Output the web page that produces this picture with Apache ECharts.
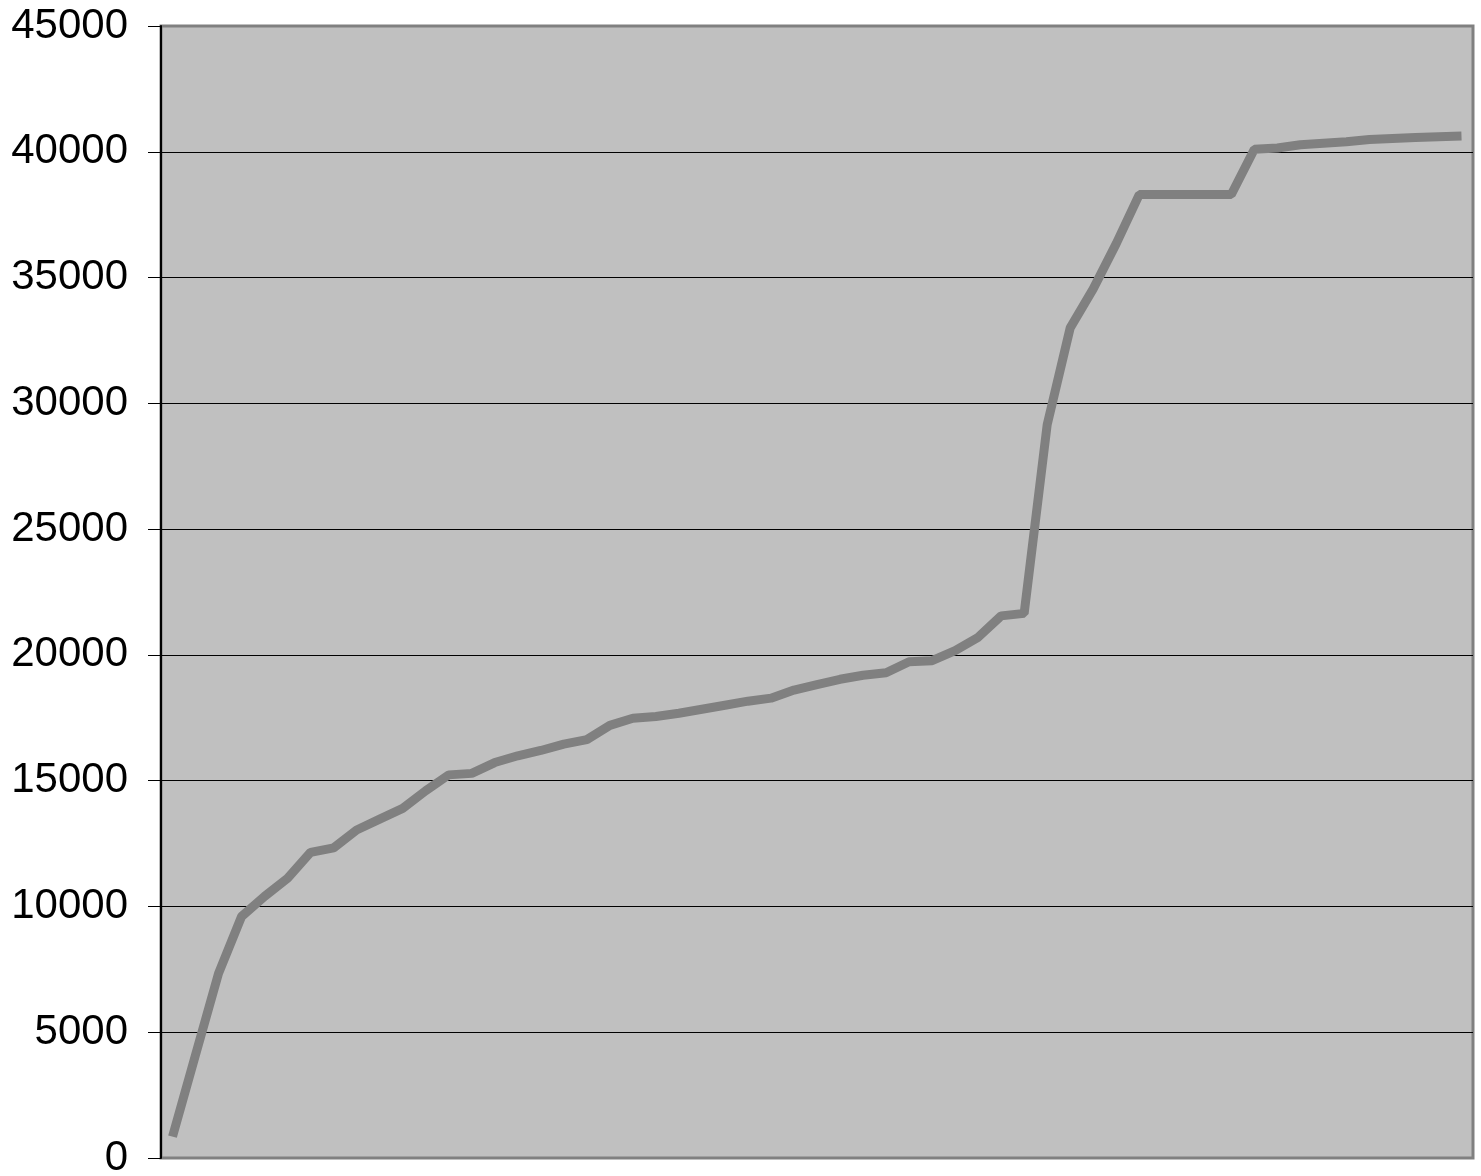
<!DOCTYPE html>
<html>
<head>
<meta charset="utf-8">
<title>Chart</title>
<script src="https://cdn.jsdelivr.net/npm/echarts@6/dist/echarts.min.js"></script>
<style>
    html, body {
        margin: 0;
        padding: 0;
        background: #ffffff;
    }

    #chart {
        width: 1481px;
        height: 1176px;
    }
</style>
</head>
<body>
<div id="chart"></div>
<script>

/* ===========================
   Data
=========================== */

const categories = [];
for (let i = 1; i <= 57; i++) categories.push(String(i));

const values = [
    850, 4100, 7340, 9600, 10400, 11120, 12150, 12330, 13040, 13470,
    13900, 14600, 15230, 15290, 15720, 15990, 16200, 16450, 16630, 17200,
    17480, 17550, 17680, 17840, 18000, 18160, 18280, 18600, 18820, 19030,
    19190, 19290, 19730, 19770, 20170, 20700, 21550, 21650, 29150, 33000,
    34550, 36350, 38300, 38300, 38300, 38300, 38300, 40100, 40150, 40280,
    40340, 40400, 40490, 40530, 40570, 40600, 40630
];

const yMin = 0;
const yMax = 45000;
const yStep = 5000;

/* ===========================
   Chart
=========================== */

const chart = echarts.init(document.getElementById("chart"));

chart.setOption({

    animation: false,

    grid: {
        left: 161,
        right: 8,
        top: 26,
        bottom: 18,
        containLabel: false,
        outerBoundsMode: "none",
        show: true,
        backgroundColor: "#c0c0c0",
        borderColor: "#808080",
        borderWidth: 3
    },

    xAxis: {
        type: "category",
        boundaryGap: true,
        data: categories,
        axisLine: { show: false },
        axisTick: { show: false },
        axisLabel: { show: false },
        splitLine: { show: false }
    },

    yAxis: {
        type: "value",
        min: yMin,
        max: yMax,
        interval: yStep,
        axisLine: {
            show: true,
            lineStyle: { color: "#000", width: 2 }
        },
        axisTick: {
            show: true,
            length: 13,
            lineStyle: { color: "#000", width: 1 }
        },
        axisLabel: {
            color: "#000",
            fontFamily: "Liberation Sans, Arial, sans-serif",
            fontSize: 42,
            margin: 33,
            formatter: value => String(value)
        },
        splitLine: {
            show: true,
            showMinLine: false,
            showMaxLine: false,
            lineStyle: { color: "#000", width: 1 }
        }
    },

    series: [{
        type: "line",
        data: values,
        symbol: "none",
        lineStyle: {
            color: "#808080",
            width: 9,
            cap: "butt",
            join: "bevel"
        }
    }]

});

</script>
</body>
</html>
